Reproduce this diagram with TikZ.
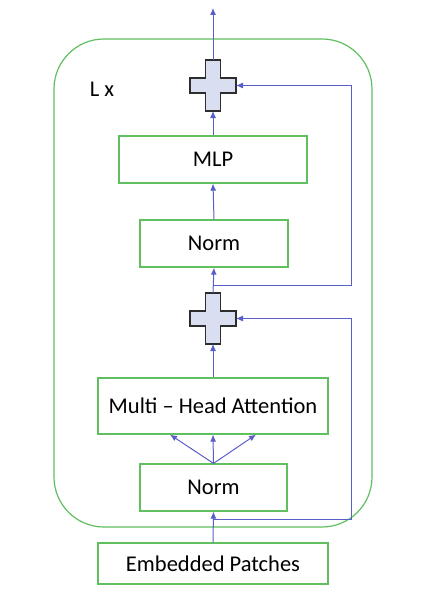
\documentclass[tikz,border=0pt]{standalone}
\usepackage{fontspec}
\setmainfont{Carlito}
\usetikzlibrary{arrows.meta}
\definecolor{boxgreen}{RGB}{96,192,96}
\definecolor{arrowblue}{RGB}{90,94,200}
\definecolor{plusfill}{RGB}{217,222,240}
\definecolor{plusedge}{RGB}{45,45,45}
\begin{document}
\begin{tikzpicture}[x=1pt,y=-1pt,
    block/.style={draw=boxgreen, line width=1.2pt, inner sep=0pt, font=\fontsize{22.5}{26}\selectfont},
    plusnode/.style={inner sep=0pt, outer sep=0pt, minimum width=46pt, minimum height=51pt},
    plusbox/.style={draw=plusedge, fill=plusfill, line width=1.3pt},
    flow/.style={-{Latex[length=7pt,width=6pt]}, arrowblue, line width=1pt}]
    \useasboundingbox (0,0) rectangle (426,594);

    % Encoder layer
    \node[draw=boxgreen, line width=1.2pt, rounded corners=50pt, minimum width=318pt, minimum height=488pt] (layer) at (213,283) {};
    \node[font=\fontsize{22.5}{26}\selectfont] (lbl) at (102,89) {L x};

    % Blocks
    \node[block, minimum width=188pt, minimum height=47pt] (mlp) at (213,159.5) {MLP};
    \node[block, minimum width=148pt, minimum height=47pt] (norm2) at (214,243.5) {Norm};
    \node[block, minimum width=230pt, minimum height=56pt] (mha) at (213,406) {Multi -- Head Attention};
    \node[block, minimum width=147pt, minimum height=47pt] (norm1) at (213.5,487.5) {Norm};
    \node[block, minimum width=230pt, minimum height=41pt] (embed) at (213,563.5) {Embedded Patches};

    % Residual adds
    \foreach \c/\n in {85.5/addA, 318.5/addB} {
        \draw[plusbox] (213,\c) ++(-7.5,-25.5) -- ++(15,0) -- ++(0,18) -- ++(15.5,0) -- ++(0,15)
            -- ++(-15.5,0) -- ++(0,18) -- ++(-15,0) -- ++(0,-18) -- ++(-15.5,0) -- ++(0,-15)
            -- ++(15.5,0) -- cycle;
        \node[plusnode] (\n) at (213,\c) {};
    }

    \coordinate (out) at (213,8);
    \coordinate (skipA) at (213,285);
    \coordinate (skipB) at (213,519);
    \coordinate (rail) at (351,0);

    % Main path
    \draw[flow] (embed.north) -- (norm1.south);
    \foreach \dx in {-43,0,43} \draw[flow] (norm1.north) -- ([xshift=\dx pt]mha.south);
    \draw[flow] (mha.north) -- (addB.south);
    \draw[flow] (addB.north) -- (norm2.south);
    \draw[flow] (norm2.north) -- (mlp.south);
    \draw[flow] (mlp.north) -- (addA.south);
    \draw[flow] (addA.north) -- (out);

    % Skip connections
    \draw[flow] (skipB) -- (skipB -| rail) |- (addB.east);
    \draw[flow] (skipA) -- (skipA -| rail) |- (addA.east);
\end{tikzpicture}
\end{document}
